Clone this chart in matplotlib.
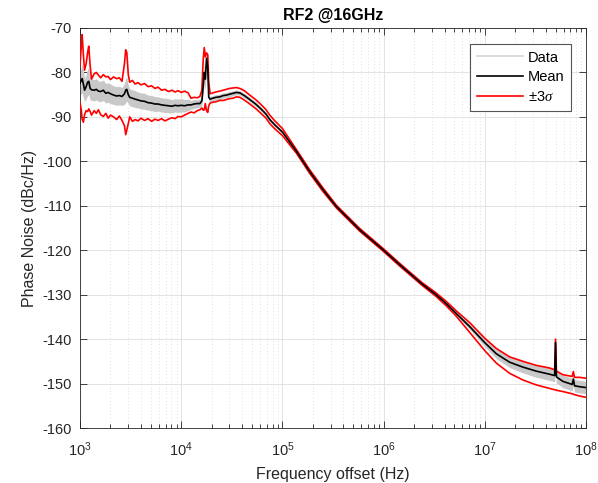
import numpy as np
import matplotlib
matplotlib.use('Agg')
from matplotlib import pyplot as plt
from matplotlib.lines import Line2D
from matplotlib.ticker import LogLocator, NullFormatter

plt.rcParams['font.family'] = ['Liberation Sans', 'DejaVu Sans']
plt.rcParams['mathtext.fontset'] = 'custom'
plt.rcParams['mathtext.rm'] = 'Liberation Sans'
plt.rcParams['mathtext.it'] = 'Liberation Serif:italic'
plt.rcParams['axes.unicode_minus'] = False

# frequency offset (Hz)
freq = [1000, 1030, 1050, 1080, 1110, 1150, 1190, 1220, 1260, 1300,
        1380, 1450, 1520, 1600, 1700, 1800, 1900, 2000, 2150, 2300,
        2450, 2600, 2750, 2830, 2900, 3000, 3100, 3300, 3500, 3750,
        4000, 4350, 4700, 5100, 5500, 5900, 6400, 6900, 7500, 8100,
        8700, 9300, 10000, 10800, 11700, 12500, 13400, 14400, 15300, 16000,
        16500, 16900, 17300, 17800, 18300, 18700, 19300, 20500, 22000, 24000,
        26000, 28000, 30000, 32500, 35000, 38000, 42000, 47000, 55000, 62000,
        69000, 75000, 85000, 1.0e5,
        1.38e5, 1.86e5, 2.52e5, 3.42e5, 4.5e5, 5.8e5, 7.8e5, 1.0e6, 1.4e6, 1.81e6,
        2.4e6, 3.3e6, 4.2e6, 5.2e6, 7.1e6,
        1.0e7, 1.3e7, 1.76e7, 2.38e7, 3.22e7, 4.37e7, 4.9e7, 5.0e7, 5.1e7, 5.9e7,
        7.3e7, 7.5e7, 7.7e7, 8.6e7, 1.0e8]

# mean phase noise (dBc/Hz)
mean_pn = [-82.4, -81.8, -81.4, -82.6, -84.0, -83.2, -82.2, -82.0, -83.6, -83.9,
           -84.0, -83.8, -84.2, -84.3, -84.0, -84.7, -84.5, -84.8, -85.1, -85.3,
           -85.2, -85.4, -84.8, -84.0, -83.8, -85.0, -85.6, -85.8, -86.0, -86.2,
           -86.4, -86.5, -86.8, -86.9, -87.1, -87.1, -87.3, -87.4, -87.5, -87.6,
           -87.4, -87.5, -87.4, -87.5, -87.3, -87.3, -87.1, -87.0, -87.0, -86.4,
           -83.0, -80.0, -81.5, -76.8, -79.0, -85.6, -86.0, -85.8, -85.6, -85.5,
           -85.2, -85.1, -84.9, -84.7, -84.5, -84.6, -85.2, -86.0, -87.2, -88.3,
           -89.4, -90.6, -91.9, -93.4,
           -97.8, -102.3, -106.4, -110.2, -112.9, -115.4, -117.9, -120.0, -123.0, -125.2,
           -127.6, -130.0, -132.1, -134.2, -137.2,
           -140.8, -143.3, -145.2, -146.3, -147.2, -147.9, -148.2, -140.8, -148.5, -149.5,
           -150.2, -149.0, -150.5, -150.7, -150.9]

# +3 sigma
upper_pn = [-78.5, -74.0, -71.5, -76.0, -79.5, -78.0, -75.5, -74.1, -78.5, -81.5,
            -80.3, -80.0, -80.6, -81.2, -80.5, -81.0, -80.9, -81.6, -81.0, -81.4,
            -81.2, -82.0, -78.0, -74.9, -75.5, -80.5, -82.2, -81.8, -82.6, -82.3,
            -82.8, -82.5, -83.2, -83.0, -83.6, -83.3, -84.0, -83.8, -84.3, -84.0,
            -84.4, -84.1, -84.5, -84.2, -84.6, -85.8, -85.6, -85.7, -85.4, -84.0,
            -77.0, -74.4, -76.5, -75.6, -76.0, -82.0, -84.8, -84.6, -84.4, -84.2,
            -84.0, -83.8, -83.6, -83.5, -83.4, -83.6, -84.1, -85.0, -86.2, -87.3,
            -88.4, -89.6, -91.0, -92.6,
            -97.4, -101.9, -106.0, -109.9, -112.6, -115.1, -117.6, -119.7, -122.7, -124.9,
            -127.3, -129.6, -131.6, -133.6, -136.3,
            -139.8, -142.1, -144.0, -145.0, -145.9, -146.5, -146.9, -140.0, -147.2, -148.0,
            -148.4, -147.3, -148.6, -148.6, -148.8]

# -3 sigma
lower_pn = [-86.8, -88.5, -90.5, -91.2, -89.5, -88.6, -88.8, -88.2, -88.8, -89.6,
            -88.6, -89.2, -88.4, -89.5, -89.9, -89.2, -90.3, -89.6, -90.0, -90.6,
            -89.8, -90.8, -92.0, -94.0, -93.0, -91.5, -90.0, -91.0, -90.6, -90.9,
            -90.3, -90.8, -90.4, -91.0, -90.5, -90.8, -90.4, -90.9, -90.5, -90.2,
            -90.4, -89.9, -90.0, -89.6, -89.2, -88.9, -89.1, -88.6, -88.4, -88.0,
            -88.5, -88.4, -87.0, -88.6, -89.0, -87.5, -86.9, -86.7, -86.6, -86.3,
            -86.3, -86.1, -85.9, -85.8, -85.5, -85.6, -86.2, -87.0, -88.2, -89.3,
            -90.3, -91.5, -92.8, -94.2,
            -98.2, -102.7, -106.8, -110.5, -113.2, -115.7, -118.2, -120.3, -123.3, -125.5,
            -127.9, -130.4, -132.6, -134.8, -138.5,
            -142.6, -145.4, -147.7, -149.2, -150.3, -151.1, -151.4, -151.4, -151.5, -151.8,
            -152.3, -152.4, -152.5, -152.8, -153.1]

# half width of the grey band of individual traces
data_spread = [2.6, 3.0, 3.2, 3.0, 2.6, 2.8, 3.0, 3.0, 2.6, 2.4,
               2.4, 2.4, 2.3, 2.3, 2.3, 2.2, 2.2, 2.2, 2.1, 2.1,
               2.1, 2.0, 2.4, 2.8, 2.6, 2.0, 1.9, 1.9, 1.9, 1.8,
               1.8, 1.8, 1.7, 1.7, 1.7, 1.6, 1.6, 1.6, 1.6, 1.5,
               1.5, 1.5, 1.5, 1.4, 1.3, 1.0, 1.0, 0.9, 0.9, 1.0,
               2.0, 2.5, 2.5, 2.5, 2.0, 0.8, 0.6, 0.6, 0.6, 0.6,
               0.6, 0.6, 0.6, 0.55, 0.55, 0.5, 0.5, 0.5, 0.5, 0.45,
               0.45, 0.4, 0.4, 0.35,
               0.25, 0.25, 0.2, 0.2, 0.2, 0.2, 0.2, 0.2, 0.2, 0.2,
               0.2, 0.25, 0.3, 0.4, 0.6,
               0.9, 1.1, 1.2, 1.3, 1.4, 1.4, 1.4, 1.4, 1.4, 1.4,
               1.4, 1.4, 1.4, 1.4, 1.4]

f = np.array(freq)
m = np.array(mean_pn)
up = np.array(upper_pn)
lo = np.array(lower_pn)
sp = np.array(data_spread)
band_hi = np.clip(m + sp, lo, up)
band_lo = np.clip(m - sp, lo, up)

fig = plt.figure(figsize=(5.98, 4.83), dpi=100)
ax = fig.add_axes([80/598, 1 - 428/483, 506/598, 400/483])

ax.fill_between(f, band_lo, band_hi, color='#c8c8c8', lw=0, zorder=2)
ax.plot(f, up, color='#ff0000', lw=1.2, zorder=3)
ax.plot(f, lo, color='#ff0000', lw=1.2, zorder=3)
ax.plot(f, m, color='black', lw=1.2, zorder=4)

ax.set_xscale('log')
ax.set_xlim(1e3, 1e8)
ax.set_ylim(-160, -70)
ax.set_yticks(np.arange(-160, -69, 10))
ax.xaxis.set_minor_locator(LogLocator(base=10, subs=np.arange(2, 10)))
ax.xaxis.set_minor_formatter(NullFormatter())

ax.grid(True, which='major', color='#dedede', lw=0.6, ls='-', zorder=0)
ax.grid(True, which='minor', axis='x', color='#d6d6d6', lw=0.6, ls=(0, (1, 3)), zorder=0)
ax.set_axisbelow(True)

ax.tick_params(which='both', direction='in', top=True, right=True,
               labelsize=10.5, colors='#262626', width=0.6)
ax.tick_params(which='major', length=5)
ax.tick_params(which='minor', length=3)
ax.tick_params(axis='x', pad=9)
ax.tick_params(axis='y', pad=6)
for s in ax.spines.values():
    s.set_color('#262626')
    s.set_linewidth(0.6)

ax.set_xlabel('Frequency offset (Hz)', fontsize=11.5, color='#262626', labelpad=6)
ax.set_ylabel('Phase Noise (dBc/Hz)', fontsize=11.5, color='#262626', labelpad=4)
ax.set_title('RF2 @16GHz', fontsize=11.5, fontweight='bold', pad=6)

handles = [Line2D([], [], color='#d6d6d6', lw=1.2),
           Line2D([], [], color='black', lw=1.2),
           Line2D([], [], color='#ff0000', lw=1.2)]
leg = ax.legend(handles, ['Data', 'Mean', r'$\pm3\sigma$'], loc='upper right',
                bbox_to_anchor=(0.97, 0.96), borderaxespad=0, fontsize=10.5,
                fancybox=False, framealpha=1, edgecolor='#555555',
                handlelength=3.2, handletextpad=0.3, borderpad=0.45,
                labelspacing=0.4)
leg.get_frame().set_linewidth(0.8)

fig.savefig('out.png', dpi=100)
